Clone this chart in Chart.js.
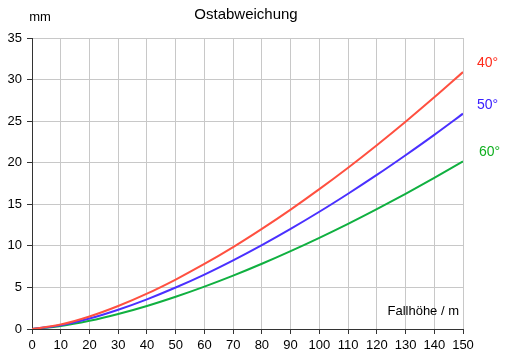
<!DOCTYPE html>
<html>
<head>
<meta charset="utf-8">
<script src="https://cdn.jsdelivr.net/npm/chart.js@4/dist/chart.umd.min.js"></script>
<style>
  body { margin: 0; background: #fff; }
  #wrap { width: 506px; height: 360px; }
</style>
</head>
<body>
<div id="wrap"><canvas id="myChart" width="506" height="360"></canvas></div>
<script>
// Fallhöhe in m
const heights = [0, 10, 20, 30, 40, 50, 60, 70, 80, 90, 100, 110, 120, 130, 140, 150];
// Ostabweichung in mm, je Breitengrad
const dev40 = [0, 0.53, 1.50, 2.76, 4.25, 5.95, 7.82, 9.85, 12.04, 14.36, 16.82, 19.40, 22.11, 24.93, 27.86, 30.9];
const dev50 = [0, 0.45, 1.26, 2.32, 3.57, 4.99, 6.55, 8.26, 10.09, 12.04, 14.10, 16.27, 18.53, 20.90, 23.35, 25.9];
const dev60 = [0, 0.35, 0.98, 1.80, 2.77, 3.88, 5.10, 6.42, 7.85, 9.37, 10.97, 12.65, 14.42, 16.26, 18.17, 20.15];
const seriesNames = ['40°', '50°', '60°'];
const lineColors = ['#ff5040', '#4a30ff', '#10b040'];
const labelColors = ['#ff2a1a', '#3a20ff', '#10b020'];

const FONT = 'Liberation Sans, Arial, sans-serif';

function toPoints(arr) {
  return heights.map((h, i) => ({ x: h, y: arr[i] }));
}

// Texte: Titel, Achsbeschriftungen, Kurvennamen
const textPlugin = {
  id: 'texts',
  afterDraw(chart) {
    const ctx = chart.ctx;
    const area = chart.chartArea;
    const ys = chart.scales.y;
    ctx.save();
    ctx.fillStyle = '#000';
    ctx.textBaseline = 'middle';
    ctx.textAlign = 'center';
    ctx.font = '15px ' + FONT;
    ctx.fillText('Ostabweichung', 246, 15);
    ctx.font = '13px ' + FONT;
    ctx.fillText('mm', 40, 17);
    ctx.textAlign = 'right';
    ctx.fillText('Fallhöhe / m', area.right - 4, 311);
    ctx.textAlign = 'left';
    ctx.font = '14px ' + FONT;
    [dev40, dev50, dev60].forEach((arr, i) => {
      const last = arr[arr.length - 1];
      ctx.fillStyle = labelColors[i];
      ctx.fillText(seriesNames[i], area.right + 14 + (i === 2 ? 2 : 0), ys.getPixelForValue(last) - 9);
    });
    ctx.restore();
  }
};

new Chart(document.getElementById('myChart'), {
  type: 'line',
  data: {
    datasets: [dev40, dev50, dev60].map((arr, i) => ({
      label: seriesNames[i],
      data: toPoints(arr),
      borderColor: lineColors[i],
      borderWidth: 2,
      pointRadius: 0,
      fill: false,
      cubicInterpolationMode: 'monotone'
    }))
  },
  options: {
    responsive: false,
    animation: false,
    layout: { padding: { left: 0, right: 43, top: 38, bottom: 0 } },
    plugins: {
      legend: { display: false },
      title: { display: false },
      tooltip: { enabled: false }
    },
    scales: {
      x: {
        type: 'linear',
        min: 0,
        max: 150,
        afterFit(scale) { scale.height = 31; },
        ticks: { stepSize: 10, color: '#000', padding: 4, font: { family: FONT, size: 13 }, maxRotation: 0 },
        grid: { color: '#c8c8c8', tickColor: '#333', tickLength: 5 },
        border: { color: '#333', width: 1 }
      },
      y: {
        min: 0,
        max: 35,
        afterFit(scale) { scale.width = 32; },
        ticks: { stepSize: 5, color: '#000', padding: 5, font: { family: FONT, size: 13 } },
        grid: { color: '#c8c8c8', tickColor: '#333', tickLength: 5 },
        border: { color: '#333', width: 1 }
      }
    }
  },
  plugins: [textPlugin]
});
</script>
</body>
</html>
